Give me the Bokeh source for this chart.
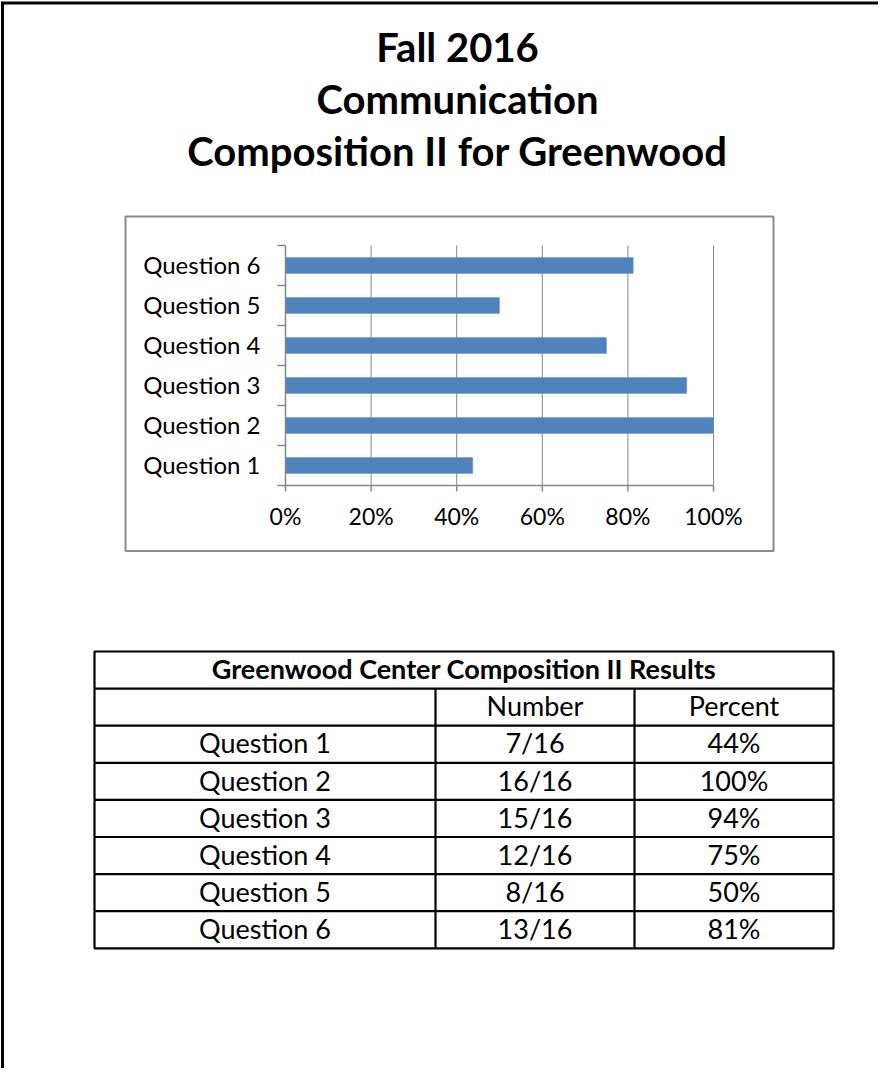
from bokeh.plotting import figure
from bokeh.models import Range1d
from bokeh.core.properties import value
from bokeh.embed import file_html
from bokeh.resources import INLINE

# ---------------- data ----------------
title_lines = ["Fall 2016", "Communication", "Composition II for Greenwood"]
questions = ["Question 1", "Question 2", "Question 3", "Question 4", "Question 5", "Question 6"]
correct = [7, 16, 15, 12, 8, 13]
total = 16
percent_labels = ["44%", "100%", "94%", "75%", "50%", "81%"]
x_ticks = [0.0, 0.2, 0.4, 0.6, 0.8, 1.0]
x_tick_labels = ["0%", "20%", "40%", "60%", "80%", "100%"]
table_title = "Greenwood Center Composition II Results"
table_header = ["", "Number", "Percent"]

# ---------------- page canvas (pixel coords of the page) ----------------
W, H = 878, 1068
OFF = 8
FONT = "Lato"
FIX = 0.4  # baseline correction (fraction of font size)

def by(base, size):
    return base - FIX * size

p = figure(width=W, height=H, x_range=Range1d(OFF, OFF + W), y_range=Range1d(OFF + H, OFF),
           output_backend="svg", toolbar_location=None, min_border=0,
           x_axis_location=None, y_axis_location=None)
p.grid.visible = False
p.outline_line_color = None
p.background_fill_color = "white"
p.border_fill_color = "white"

# page border (top and left edge)
p.line([10, 10, OFF + W], [OFF + H, 10.5, 10.5], line_color="black", line_width=3, line_join="miter")

# title
TS = 40
title_base = [70, 122, 174]
p.text(x=[465] * 3, y=[by(b, TS) for b in title_base], text=title_lines, text_align="center",
       text_baseline="alphabetic", text_font=value(FONT), text_font_style="bold",
       text_font_size=f"{TS}px", text_color="black")

# ---------------- bar chart (own scales mapped into its plot area) ----------------
PX0, PX1 = 293, 721          # pixel of 0% and 100%
PY_TOP, PY_BOT = 253, 493    # pixel of top/bottom of plot area
n = len(questions)
band = (PY_BOT - PY_TOP) / n
sx = (PX1 - PX0) / 1.0
p.extra_x_ranges = {"pct": Range1d((OFF - PX0) / sx, (OFF + W - PX0) / sx)}
y_at_pix = lambda pix: (PY_BOT - pix) / band + 0.5
p.extra_y_ranges = {"q": Range1d(y_at_pix(OFF + H), y_at_pix(OFF))}

# chart box
p.quad(left=133, right=781, top=224, bottom=558.5, fill_color=None, line_color="#8a8a8a", line_width=2)

idx = list(range(1, n + 1))
frac = [c / total for c in correct]

AX = "#868686"
grid_x = x_ticks[1:]
p.segment(x0=grid_x, y0=[0.5] * len(grid_x), x1=grid_x, y1=[n + 0.5] * len(grid_x),
          x_range_name="pct", y_range_name="q", line_color=AX, line_width=1)

p.hbar(y=idx, left=0, right=frac, height=0.4, x_range_name="pct", y_range_name="q",
       fill_color="#4F81BD", line_color="#6f98cc", line_width=0.5)

tick_len_x = 8 / sx
bounds = [k + 0.5 for k in range(0, n + 1)]
p.segment(x0=[0], y0=[0.5], x1=[0], y1=[n + 0.5], x_range_name="pct", y_range_name="q",
          line_color=AX, line_width=1.5)
p.segment(x0=[-tick_len_x] * len(bounds), y0=bounds, x1=[0] * len(bounds), y1=bounds,
          x_range_name="pct", y_range_name="q", line_color=AX, line_width=1.5)
p.segment(x0=[0], y0=[0.5], x1=[1.0], y1=[0.5], x_range_name="pct", y_range_name="q",
          line_color=AX, line_width=1.5)
tick_len_y = 6 / band
p.segment(x0=x_ticks, y0=[0.5] * len(x_ticks), x1=x_ticks, y1=[0.5 - tick_len_y] * len(x_ticks),
          x_range_name="pct", y_range_name="q", line_color=AX, line_width=1.5)

LS = 24
XS = 23
p.text(x=x_ticks, y=[y_at_pix(by(533, XS))] * len(x_ticks), text=x_tick_labels, x_range_name="pct",
       y_range_name="q", text_align="center", text_baseline="alphabetic", text_font=value(FONT),
       text_font_size=f"{XS}px", text_color="black")
p.text(x=[-(PX0 - 268) / sx] * n, y=[i - (8.5 - FIX * LS) / band for i in idx], text=questions,
       x_range_name="pct", y_range_name="q", text_align="right", text_baseline="alphabetic",
       text_font=value(FONT), text_font_size=f"{LS}px", text_color="black")

# ---------------- table ----------------
TL, TR = 102, 841
TT = 659
ROW = 37.1
col_x = [TL, 443, 642, TR]
n_rows = n + 2
TB = TT + ROW * n_rows
p.quad(left=TL, right=TR, top=TT, bottom=TB, fill_color=None, line_color="black", line_width=2.2)
hy = [TT + ROW * k for k in range(1, n_rows)]
p.segment(x0=[TL] * len(hy), y0=hy, x1=[TR] * len(hy), y1=hy, line_color="black", line_width=2.2)
p.segment(x0=col_x[1:3], y0=[TT + ROW] * 2, x1=col_x[1:3], y1=[TB] * 2, line_color="black", line_width=2.2)

CS = 27
centers = [(col_x[k] + col_x[k + 1]) / 2 for k in range(3)]
p.text(x=[(TL + TR) / 2], y=[by(TT + 28, CS)], text=[table_title], text_align="center",
       text_baseline="alphabetic", text_font=value(FONT), text_font_style="bold",
       text_font_size=f"{CS}px", text_color="black")
p.text(x=centers, y=[by(TT + ROW + 28, CS)] * 3, text=table_header, text_align="center",
       text_baseline="alphabetic", text_font=value(FONT), text_font_size=f"{CS}px", text_color="black")
number_labels = [f"{c}/{total}" for c in correct]
for col, labels in enumerate([questions, number_labels, percent_labels]):
    ys = [by(TT + ROW * (2 + r) + 28, CS) for r in range(n)]
    p.text(x=[centers[col]] * n, y=ys, text=labels, text_align="center", text_baseline="alphabetic",
           text_font=value(FONT), text_font_size=f"{CS}px", text_color="black")

open("out.html", "w").write(file_html(p, INLINE))
